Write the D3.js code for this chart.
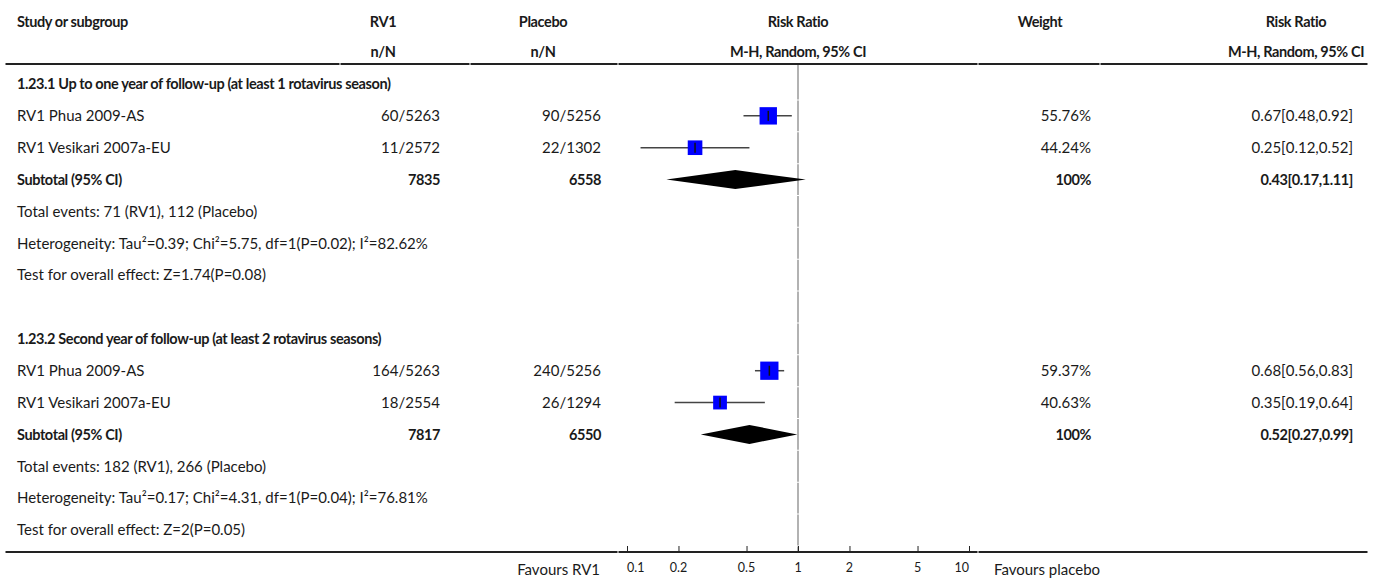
<!DOCTYPE html>
<html><head><meta charset="utf-8">
<script src="https://cdn.jsdelivr.net/npm/d3@7"></script>
<style>
html,body{margin:0;padding:0;background:#fff;}
svg text{font-family:"Source Sans Pro","Lato","Roboto",sans-serif;fill:#1a1a1a;}
.b{font-weight:bold;letter-spacing:-0.4px;}
</style></head>
<body><svg id="c" width="1375" height="583"></svg>
<script>
// ---- data ----
const headerRow1 = ["Study or subgroup","RV1","Placebo","Risk Ratio","Weight","Risk Ratio"];
const headerRow2 = ["","n/N","n/N","M-H, Random, 95% CI","","M-H, Random, 95% CI"];
const sectionTitles = ["1.23.1 Up to one year of follow-up (at least 1 rotavirus season)",
                       "1.23.2 Second year of follow-up (at least 2 rotavirus seasons)"];
const studyNames = ["RV1 Phua 2009-AS","RV1 Vesikari 2007a-EU","RV1 Phua 2009-AS","RV1 Vesikari 2007a-EU"];
const studySection = [0,0,1,1];
const rv1Counts = ["60/5263","11/2572","164/5263","18/2554"];
const placeboCounts = ["90/5256","22/1302","240/5256","26/1294"];
const studyRR = [0.67,0.25,0.68,0.35];
const studyLo = [0.48,0.12,0.56,0.19];
const studyHi = [0.92,0.52,0.83,0.64];
const studyWeight = [55.76,44.24,59.37,40.63];
const studyWeightLabel = ["55.76%","44.24%","59.37%","40.63%"];
const studyRRLabel = ["0.67[0.48,0.92]","0.25[0.12,0.52]","0.68[0.56,0.83]","0.35[0.19,0.64]"];
const subRv1Total = ["7835","7817"];
const subPlaceboTotal = ["6558","6550"];
const subRR = [0.43,0.52];
const subLo = [0.17,0.27];
const subHi = [1.11,0.99];
const subWeightLabel = ["100%","100%"];
const subRRLabel = ["0.43[0.17,1.11]","0.52[0.27,0.99]"];
const totalEvents = ["Total events: 71 (RV1), 112 (Placebo)","Total events: 182 (RV1), 266 (Placebo)"];
const heterogeneity = ["Heterogeneity: Tau²=0.39; Chi²=5.75, df=1(P=0.02); I²=82.62%",
                       "Heterogeneity: Tau²=0.17; Chi²=4.31, df=1(P=0.04); I²=76.81%"];
const overallEffect = ["Test for overall effect: Z=1.74(P=0.08)","Test for overall effect: Z=2(P=0.05)"];
const tickValues = [0.1,0.2,0.5,1,2,5,10];
const tickLabels = ["0.1","0.2","0.5","1","2","5","10"];
const favoursLeft = "Favours RV1";
const favoursRight = "Favours placebo";

// ---- build rows ----
const rows = [];
sectionTitles.forEach((t,s)=>{
  rows.push({type:"section",text:t});
  studyNames.forEach((n,i)=>{ if(studySection[i]===s) rows.push({type:"study",i}); });
  rows.push({type:"subtotal",s});
  rows.push({type:"text",text:totalEvents[s]});
  rows.push({type:"text",text:heterogeneity[s]});
  rows.push({type:"text",text:overallEffect[s]});
  if(s<sectionTitles.length-1) rows.push({type:"blank"});
});

const svg = d3.select("#c");
const FS = 15, FSB = 14.5;
const y = d3.scaleLinear().domain([0, rows.length-1]).range([84, 530]);
const rowH = y(1)-y(0);
const x = d3.scaleLog().domain([0.1,10]).range([627,969]);
const sq = d3.scaleLinear().domain([0,100]).range([4,28]);

// column geometry
const col = {study:17, rv1R:440, plaR:601, wR:1091, rrR:1353};
const colBounds = [[5,340],[340,470],[470,618],[618,978],[978,1100],[1100,1368]];
const headerCenters = [null,383,543,x(1),1040,1296];

// header
const hdr = svg.append("g").attr("class","b").attr("font-size",FSB);
hdr.append("text").attr("x",col.study).attr("y",22).attr("dy","0.35em").text(headerRow1[0]);
headerRow1.forEach((t,i)=>{ if(i>0) hdr.append("text").attr("x",headerCenters[i]).attr("y",22).attr("dy","0.35em").attr("text-anchor","middle").text(t);});
headerRow2.forEach((t,i)=>{ if(i>0 && t) hdr.append("text").attr("x",headerCenters[i]).attr("y",52).attr("dy","0.35em").attr("text-anchor","middle").text(t);});
svg.append("g").selectAll("line").data(colBounds).join("line")
  .attr("x1",d=>d[0]+0.5).attr("x2",d=>d[1]-0.5).attr("y1",64).attr("y2",64)
  .attr("stroke","#222").attr("stroke-width",2);

// vertical null line segments per row
const vl = svg.append("g");
d3.range(rows.length).forEach(r=>{
  vl.append("line").attr("x1",x(1)).attr("x2",x(1))
    .attr("y1",(r===0?65:y(r)-rowH/2+0.5)).attr("y2",y(r)+rowH/2-0.5)
    .attr("stroke","#999").attr("stroke-width",1.5);
});
vl.append("line").attr("x1",x(1)).attr("x2",x(1)).attr("y1",y(rows.length-1)+rowH/2+0.5).attr("y2",551)
  .attr("stroke","#999").attr("stroke-width",1.5);

// rows
const g = svg.append("g").attr("font-size",FS);
rows.forEach((r,ri)=>{
  const yy = y(ri);
  if(r.type==="section"){
    g.append("text").attr("class","b").attr("x",col.study).attr("y",yy).attr("dy","0.35em").attr("font-size",FSB).text(r.text);
  } else if(r.type==="text"){
    g.append("text").attr("x",col.study).attr("y",yy).attr("dy","0.35em").text(r.text);
  } else if(r.type==="study"){
    const i=r.i;
    g.append("text").attr("x",col.study).attr("y",yy).attr("dy","0.35em").text(studyNames[i]);
    g.append("text").attr("x",col.rv1R).attr("y",yy).attr("dy","0.35em").attr("text-anchor","end").text(rv1Counts[i]);
    g.append("text").attr("x",col.plaR).attr("y",yy).attr("dy","0.35em").attr("text-anchor","end").text(placeboCounts[i]);
    g.append("text").attr("x",col.wR).attr("y",yy).attr("dy","0.35em").attr("text-anchor","end").text(studyWeightLabel[i]);
    g.append("text").attr("x",col.rrR).attr("y",yy).attr("dy","0.35em").attr("text-anchor","end").text(studyRRLabel[i]);
    g.append("line").attr("x1",x(studyLo[i])).attr("x2",x(studyHi[i])).attr("y1",yy).attr("y2",yy)
      .attr("stroke","#444").attr("stroke-width",1.5);
    const s = sq(studyWeight[i]);
    g.append("rect").attr("x",x(studyRR[i])-s/2).attr("y",yy-s/2).attr("width",s).attr("height",s).attr("fill","#0000ff");
    g.append("line").attr("x1",x(studyRR[i])).attr("x2",x(studyRR[i])).attr("y1",yy-5).attr("y2",yy+5)
      .attr("stroke","#111").attr("stroke-width",1.5);
  } else if(r.type==="subtotal"){
    const s=r.s;
    const b = g.append("g").attr("class","b").attr("font-size",FSB);
    b.append("text").attr("x",col.study).attr("y",yy).attr("dy","0.35em").text("Subtotal (95% CI)");
    b.append("text").attr("x",col.rv1R).attr("y",yy).attr("dy","0.35em").attr("text-anchor","end").text(subRv1Total[s]);
    b.append("text").attr("x",col.plaR).attr("y",yy).attr("dy","0.35em").attr("text-anchor","end").text(subPlaceboTotal[s]);
    b.append("text").attr("x",col.wR).attr("y",yy).attr("dy","0.35em").attr("text-anchor","end").text(subWeightLabel[s]);
    b.append("text").attr("x",col.rrR).attr("y",yy).attr("dy","0.35em").attr("text-anchor","end").text(subRRLabel[s]);
    const h=9.5;
    const pts=[[x(subLo[s]),yy],[x(subRR[s]),yy-h],[x(subHi[s]),yy],[x(subRR[s]),yy+h]];
    g.append("path").attr("d",d3.line()(pts)+"Z").attr("fill","#000");
  }
});

// bottom axis
const axY = 552;
svg.append("g").selectAll("line").data([[5,618],[618,978],[978,1368]]).join("line")
  .attr("x1",d=>d[0]+0.5).attr("x2",d=>d[1]-0.5).attr("y1",axY).attr("y2",axY)
  .attr("stroke","#222").attr("stroke-width",2);
const ax = svg.append("g").attr("transform",`translate(0,${axY})`)
  .call(d3.axisTop(x).tickValues(tickValues).tickSize(6).tickFormat(""));
ax.select(".domain").remove();
ax.selectAll(".tick line").attr("stroke","#222");
const tl = svg.append("g").attr("font-size",12.5);
tickValues.forEach((v,i)=>{
  tl.append("text").attr("x",x(v)).attr("y",axY+16).attr("dy","0.35em")
    .attr("text-anchor", i===0?"start":(i===tickValues.length-1?"end":"middle")).text(tickLabels[i]);
});
svg.append("text").attr("x",600).attr("y",axY+18).attr("dy","0.35em").attr("text-anchor","end").attr("font-size",FS).text(favoursLeft);
svg.append("text").attr("x",994).attr("y",axY+18).attr("dy","0.35em").attr("font-size",FS).text(favoursRight);
</script></body></html>
